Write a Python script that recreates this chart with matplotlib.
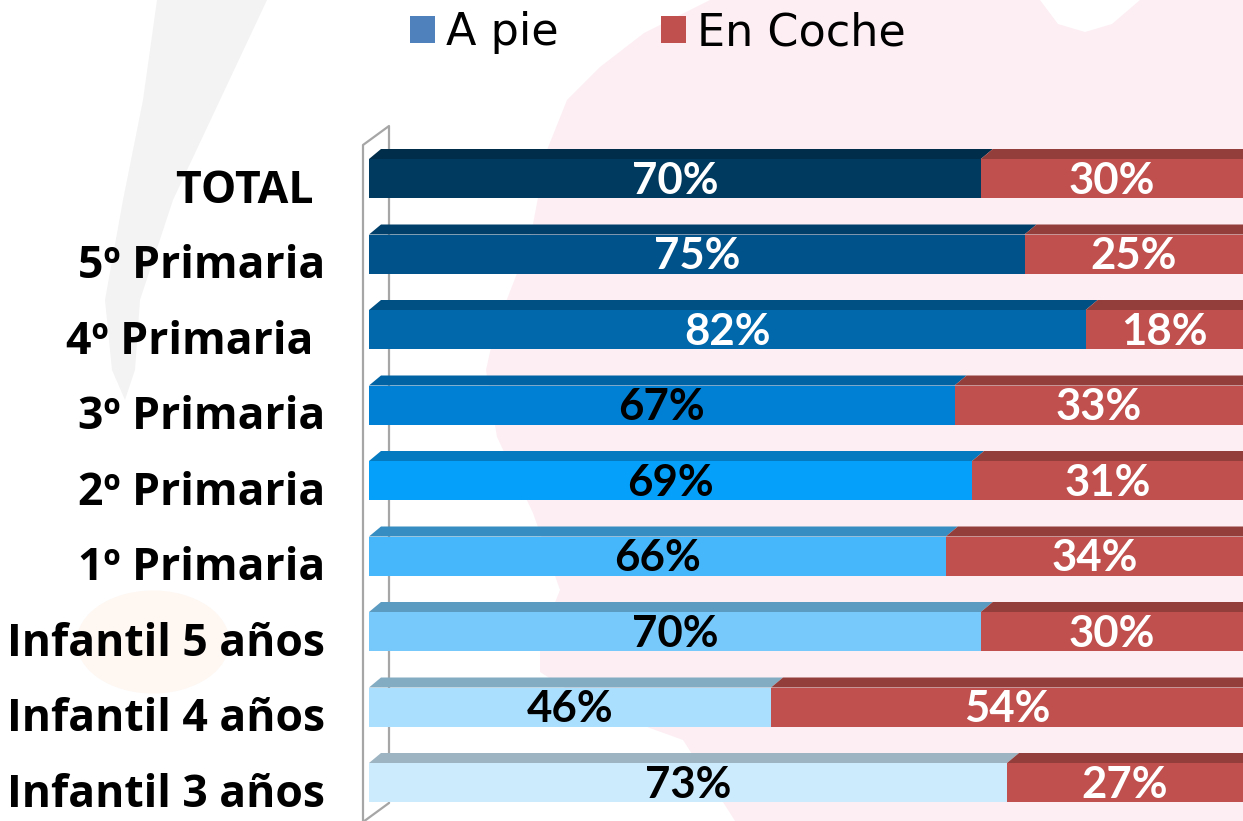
import matplotlib
matplotlib.use('Agg')
import matplotlib.pyplot as plt
from matplotlib.patches import Polygon, Patch, Ellipse
from matplotlib.lines import Line2D
from matplotlib.colors import to_rgb
from matplotlib.transforms import ScaledTranslation
import numpy as np

# ---- data ----
categories = ['TOTAL ', '5º Primaria', '4º Primaria ', '3º Primaria', '2º Primaria',
              '1º Primaria', 'Infantil 5 años', 'Infantil 4 años', 'Infantil 3 años']
a_pie = [70, 75, 82, 67, 69, 66, 70, 46, 73]
en_coche = [30, 25, 18, 33, 31, 34, 30, 54, 27]
series_names = ['A pie', 'En Coche']

# ---- style ----
blue_shades = ['#003A5F', '#00528A', '#0068AB', '#0080D4', '#05A0FA',
               '#45B7FA', '#78C9FB', '#AADFFD', '#CCEBFD']
pie_text_colors = ['white', 'white', 'white', 'black', 'black',
                   'black', 'black', 'black', 'black']
red = '#C0504D'
legend_blue = '#4F81BD'

W, H, DPI = 1243, 821, 100
fig = plt.figure(figsize=(W / DPI, H / DPI), dpi=DPI)
fig.patch.set_facecolor('white')


def fpoly(pts, color, z=0):
    xy = [(x / W, 1 - y / H) for x, y in pts]
    fig.add_artist(Polygon(xy, closed=True, transform=fig.transFigure,
                           facecolor=color, edgecolor='none', zorder=z))


# faint background watermark shapes
fpoly([(1243, 0), (1140, 0), (1112, 24), (1085, 32), (1058, 24), (1040, 0),
       (710, 0), (644, 33), (600, 67), (567, 100), (547, 150), (530, 240),
       (495, 330), (486, 370), (497, 437), (533, 513), (560, 590), (540, 640),
       (540, 672), (600, 710), (683, 740), (730, 813), (735, 821), (1243, 821)],
      '#FDEEF3', -5)
fpoly([(157, 0), (143, 100), (123, 200), (105, 300), (112, 370), (125, 400),
       (135, 370), (140, 300), (173, 200), (220, 100), (267, 0)], '#F3F3F3', -5)
fig.add_artist(Ellipse((153 / W, 1 - 642 / H), 153 / W, 103 / H, transform=fig.transFigure,
                       facecolor='#FEF7F2', edgecolor='none', zorder=-5))

# axes: x=0 at px 369, x=100 at right edge
ax = fig.add_axes([369 / W, 0, 874 / W, 1])
ax.patch.set_alpha(0)
px_x = 874 / 100.0
pitch = 75.5
top_center = 178.5
ax.set_xlim(0, 100)
ax.set_ylim((H - top_center) / pitch, -top_center / pitch)

y = np.arange(len(categories))
h = 39 / pitch
bev_h = 10 / pitch
bev_dx = 12 / px_x


def darker(c, f=0.77):
    r, g, b = to_rgb(c)
    return (r * f, g * f, b * f)


ax.barh(y, a_pie, height=h, color=blue_shades, zorder=3)
ax.barh(y, en_coche, height=h, left=a_pie, color=red, zorder=3)

# top bevels
for i in range(len(categories)):
    segs = [(0, a_pie[i], blue_shades[i]), (a_pie[i], a_pie[i] + en_coche[i], red)]
    for l, r, c in segs:
        top = y[i] - h / 2
        ax.add_patch(Polygon([(l, top), (r, top), (r + bev_dx, top - bev_h),
                              (l + bev_dx, top - bev_h)], closed=True,
                             facecolor=darker(c), edgecolor='none', zorder=3))

# value labels
pct_font = dict(family=['Lato', 'DejaVu Sans'], fontweight='bold', fontsize=31.5)
for i in range(len(categories)):
    ax.text(a_pie[i] / 2, y[i] + 0.03, f'{a_pie[i]}%', ha='center', va='center',
            color=pie_text_colors[i], zorder=5, **pct_font)
    ax.text(a_pie[i] + en_coche[i] / 2, y[i] + 0.03, f'{en_coche[i]}%',
            ha='center', va='center', color='white', zorder=5, **pct_font)

# 3D wall frame (gray lines)
wall_c = '#A6A6A6'
xf = (363 - 369) / px_x
xb = (389 - 369) / px_x
def yd(px):
    return (px - top_center) / pitch
ax.add_line(Line2D([xf, xf, xb, xb, xf], [yd(830), yd(145), yd(126), yd(803), yd(822)],
                   color=wall_c, lw=1.6, zorder=1, clip_on=False))

# ticks / spines
for s in ax.spines.values():
    s.set_visible(False)
ax.set_xticks([])
ax.set_yticks(y, categories)
ax.tick_params(axis='y', length=0, pad=31.5)
for lab in ax.get_yticklabels():
    lab.set_fontfamily(['Open Sans', 'DejaVu Sans'])
    lab.set_fontweight('bold')
    lab.set_fontsize(32)
    lab.set_transform(lab.get_transform() + ScaledTranslation(0, -7 / DPI, fig.dpi_scale_trans))

# legend
handles = [Patch(facecolor=legend_blue), Patch(facecolor=red)]
fig.legend(handles, series_names, loc='upper center', bbox_to_anchor=(658 / W, 0.992),
           ncol=2, frameon=False, handlelength=0.56, handleheight=0.56,
           handletextpad=0.25, columnspacing=2.3, borderaxespad=0, borderpad=0.1,
           prop=dict(family='DejaVu Sans', size=32))

fig.savefig('out.png', dpi=DPI)
